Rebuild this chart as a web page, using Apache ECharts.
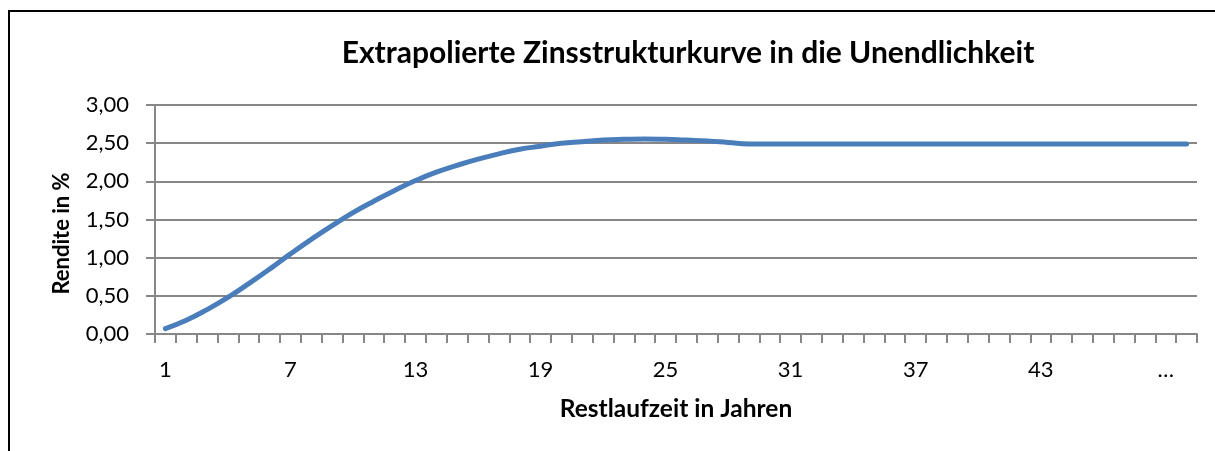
<!DOCTYPE html>
<html>
<head>
<meta charset="utf-8">
<title>Extrapolierte Zinsstrukturkurve</title>
<script src="https://cdn.jsdelivr.net/npm/echarts@6/dist/echarts.min.js"></script>
<style>
    html, body { margin: 0; padding: 0; background: #fff; }
    #chart { width: 1215px; height: 451px; }
</style>
</head>
<body>
<div id="chart"></div>
<script>
    'use strict';

    // Restlaufzeit (Jahre), the 49th slot is drawn as "…"
    var years = [
        '1', '2', '3', '4', '5', '6', '7', '8', '9', '10',
        '11', '12', '13', '14', '15', '16', '17', '18', '19', '20',
        '21', '22', '23', '24', '25', '26', '27', '28', '29', '30',
        '31', '32', '33', '34', '35', '36', '37', '38', '39', '40',
        '41', '42', '43', '44', '45', '46', '47', '48', '…', '∞'
    ];

    // Rendite in %
    var rendite = [
        0.07, 0.18, 0.32, 0.48, 0.66, 0.85, 1.05, 1.24, 1.42, 1.59,
        1.74, 1.88, 2.01, 2.12, 2.21, 2.29, 2.36, 2.42, 2.46, 2.50,
        2.52, 2.54, 2.55, 2.555, 2.55, 2.54, 2.53, 2.51, 2.49, 2.49,
        2.49, 2.49, 2.49, 2.49, 2.49, 2.49, 2.49, 2.49, 2.49, 2.49,
        2.49, 2.49, 2.49, 2.49, 2.49, 2.49, 2.49, 2.49, 2.49, 2.49
    ];

    var yTicks = [0, 0.5, 1, 1.5, 2, 2.5, 3];

    var FONT = 'Lato, "Noto Sans", sans-serif';
    var GRID_GREY = '#878787';

    var chart = echarts.init(document.getElementById('chart'), null, {renderer: 'canvas'});

    chart.setOption({
        animation: false,
        backgroundColor: '#fff',
        textStyle: {fontFamily: FONT, color: '#000'},
        title: {
            text: 'Extrapolierte Zinsstrukturkurve in die Unendlichkeit',
            left: 683,
            top: 33,
            textAlign: 'center',
            textStyle: {fontFamily: FONT, fontSize: 30, fontWeight: 'bold', color: '#000'}
        },
        graphic: [{
            type: 'rect',
            shape: {x: 9, y: 11, width: 1300, height: 600},
            style: {fill: null, stroke: '#000', lineWidth: 2},
            silent: true
        }],
        grid: {left: 155, right: 18, top: 105, bottom: 117, containLabel: false},
        xAxis: {
            type: 'category',
            data: years,
            boundaryGap: true,
            name: 'Restlaufzeit in Jahren',
            nameLocation: 'middle',
            nameGap: 63,
            nameTextStyle: {fontFamily: FONT, fontSize: 24.5, fontWeight: 'bold', color: '#000'},
            axisLine: {lineStyle: {color: GRID_GREY, width: 2}},
            axisTick: {show: true, interval: 0, length: 9, lineStyle: {color: GRID_GREY, width: 2}},
            axisLabel: {interval: 5, margin: 25, fontFamily: FONT, fontSize: 22, color: '#000'},
            splitLine: {show: false}
        },
        yAxis: {
            type: 'value',
            min: yTicks[0],
            max: yTicks[yTicks.length - 1],
            interval: 0.5,
            name: 'Rendite in %',
            nameLocation: 'middle',
            nameRotate: 90,
            nameGap: 82,
            nameTextStyle: {
                fontFamily: FONT, fontSize: 22, fontWeight: 'bold', color: '#000',
                // the title sits a little below the middle of the axis
                padding: [0, 28, 0, 0]
            },
            axisLine: {show: true, lineStyle: {color: GRID_GREY, width: 2}},
            axisTick: {show: true, length: 9, lineStyle: {color: GRID_GREY, width: 2}},
            axisLabel: {
                margin: 26,
                fontFamily: FONT,
                fontSize: 22,
                color: '#000',
                formatter: function(v) { return v.toFixed(2).replace('.', ','); }
            },
            splitLine: {show: true, lineStyle: {color: GRID_GREY, width: 2}}
        },
        series: [{
            type: 'line',
            data: rendite,
            smooth: true,
            showSymbol: false,
            lineStyle: {color: '#4A7EBB', width: 5, cap: 'round'},
            itemStyle: {color: '#4A7EBB'}
        }]
    });
</script>
</body>
</html>
